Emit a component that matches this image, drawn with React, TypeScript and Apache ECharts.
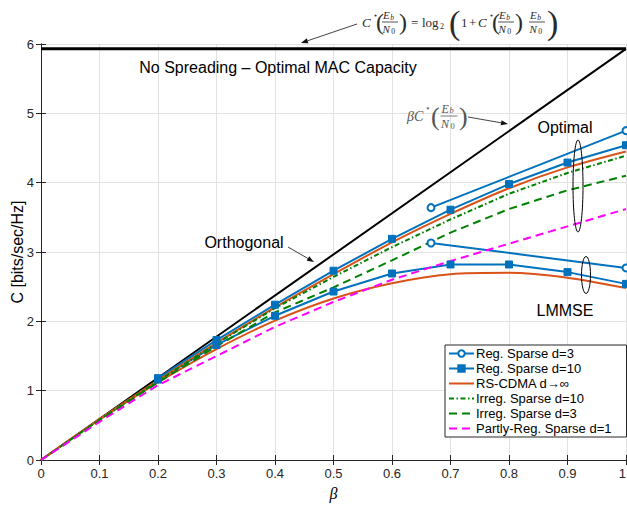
import React, { useEffect, useRef } from "react";
import * as echarts from "echarts";

// ---------------- data ----------------
const betaFull = [0, 0.1, 0.2, 0.3, 0.4, 0.5, 0.6, 0.7, 0.8, 0.9, 1.0];
const capacityNoSpreading = 5.93;

const regD3Beta = [0.6667, 1.0];
const regD3Optimal = [3.64, 4.75];
const regD3Lmmse = [3.13, 2.77];

const regD10Beta = [0.2, 0.3, 0.4, 0.5, 0.6, 0.7, 0.8, 0.9, 1.0];
const regD10Optimal = [1.18, 1.73, 2.24, 2.73, 3.19, 3.61, 3.98, 4.29, 4.54];
const regD10Lmmse = [1.16, 1.66, 2.08, 2.43, 2.69, 2.82, 2.82, 2.71, 2.54];

const rsCdmaOptimal = [0, 0.59, 1.15, 1.69, 2.2, 2.68, 3.14, 3.55, 3.92, 4.22, 4.45];
const rsCdmaLmmse = [0, 0.58, 1.12, 1.6, 2.01, 2.33, 2.55, 2.68, 2.7, 2.63, 2.48];
const irregD10 = [0, 0.58, 1.14, 1.68, 2.19, 2.64, 3.07, 3.47, 3.84, 4.14, 4.39];
const irregD3 = [0, 0.57, 1.12, 1.64, 2.13, 2.49, 2.88, 3.28, 3.62, 3.89, 4.1];
const partlyReg = [0, 0.55, 1.08, 1.5, 1.92, 2.28, 2.6, 2.87, 3.12, 3.37, 3.62];

const legendNames = [
  "Reg. Sparse d=3",
  "Reg. Sparse d=10",
  "RS-CDMA d\u2192\u221e",
  "Irreg. Sparse d=10",
  "Irreg. Sparse d=3",
  "Partly-Reg. Sparse d=1",
];
const legendHasMarker = [true, true, false, false, false, false];

const xTicks = { min: 0, max: 1, interval: 0.1 };
const yTicks = { min: 0, max: 6, interval: 1 };

// ---------------- styles ----------------
const SANS = "'Liberation Sans', Arial, Helvetica, sans-serif";
const SERIF = "'Liberation Serif', 'DejaVu Serif', 'Times New Roman', serif";
const BLUE = "#0072BD";
const ORANGE = "#D95319";
const GREEN = "#008000";
const MAGENTA = "#FF00FF";
const AXIS = "#262626";

const zip = (xs: number[], ys: number[]) => xs.map((x, i) => [x, ys[i]]);

function txt(x: number, y: number, text: string, size: number, opts: any = {}) {
  return {
    type: "text",
    x,
    y,
    z: 100,
    silent: true,
    style: {
      text,
      fontSize: size,
      fontFamily: opts.family ?? SERIF,
      fontStyle: opts.italic ? "italic" : "normal",
      fill: opts.color ?? "#222",
      align: opts.align ?? "left",
      verticalAlign: "middle",
    },
  };
}

function frac(x: number, yc: number, size: number, color: string, w: number) {
  const sub = size * 0.7;
  return [
    txt(x, yc - size * 0.62, "E", size, { italic: true, color }),
    txt(x + size * 0.66, yc - size * 0.42, "b", sub, { italic: true, color }),
    {
      type: "line",
      z: 100,
      silent: true,
      shape: { x1: x - 1, y1: yc, x2: x + w, y2: yc },
      style: { stroke: color, lineWidth: 0.8 },
    },
    txt(x - 0.5, yc + size * 0.66, "N", size, { italic: true, color }),
    txt(x + size * 0.74, yc + size * 0.85, "0", sub, { color }),
  ];
}

function arrow(x1: number, y1: number, x2: number, y2: number) {
  const dx = x2 - x1;
  const dy = y2 - y1;
  const L = Math.hypot(dx, dy);
  const ux = dx / L;
  const uy = dy / L;
  const hl = 7;
  const hw = 2.6;
  const bx = x2 - ux * hl;
  const by = y2 - uy * hl;
  return [
    {
      type: "line",
      z: 100,
      silent: true,
      shape: { x1, y1, x2: bx, y2: by },
      style: { stroke: "#111", lineWidth: 0.8 },
    },
    {
      type: "polygon",
      z: 100,
      silent: true,
      shape: {
        points: [
          [x2, y2],
          [bx - uy * hw, by + ux * hw],
          [bx + uy * hw, by - ux * hw],
        ],
      },
      style: { fill: "#111" },
    },
  ];
}

function buildGraphics() {
  const g: any[] = [];
  const fc = "#2a2a2a";
  // top formula: C*(Eb/N0) = log2(1 + C*(Eb/N0) Eb/N0)
  g.push(txt(362, 22, "C", 13, { italic: true, color: fc }));
  g.push(txt(372.5, 15, "\u22C6", 8, { color: fc }));
  g.push(txt(376, 22, "(", 24, { color: fc }));
  g.push(...frac(383, 22, 11, fc, 15));
  g.push(txt(399, 22, ")", 24, { color: fc }));
  g.push(txt(411, 22, "=", 13, { color: fc }));
  g.push(txt(422, 22, "log", 13, { color: fc }));
  g.push(txt(440, 26, "2", 8, { color: fc }));
  g.push(txt(449, 22, "(", 34, { color: fc }));
  g.push(txt(461, 22, "1", 13, { color: fc }));
  g.push(txt(469, 22, "+", 13, { color: fc }));
  g.push(txt(478, 22, "C", 13, { italic: true, color: fc }));
  g.push(txt(488.5, 15, "\u22C6", 8, { color: fc }));
  g.push(txt(492, 22, "(", 24, { color: fc }));
  g.push(...frac(499, 22, 11, fc, 15));
  g.push(txt(515, 22, ")", 24, { color: fc }));
  g.push(...frac(530, 22, 11, fc, 15));
  g.push(txt(547, 22, ")", 34, { color: fc }));
  g.push(...arrow(357, 24, 301, 43));

  // beta C*(Eb/N0)
  const bc = "#555";
  g.push(txt(407, 116, "\u03B2C", 14, { italic: true, color: bc }));
  g.push(txt(424.5, 108, "\u22C6", 9, { color: bc }));
  g.push(txt(431, 116, "(", 26, { color: bc }));
  g.push(...frac(441.5, 116, 12, bc, 16));
  g.push(txt(459, 116, ")", 26, { color: bc }));
  g.push(...arrow(468, 117, 508, 124));

  // labels
  const lab = { family: SANS, color: "#000", align: "center" };
  g.push(txt(278, 67, "No Spreading \u2013 Optimal MAC Capacity", 16, lab));
  g.push(txt(244, 242, "Orthogonal", 16, lab));
  g.push(...arrow(288, 247, 314, 262));
  g.push(txt(565, 127, "Optimal", 16, lab));
  g.push(txt(565, 310, "LMMSE", 16, lab));

  // ellipses
  g.push({
    type: "ellipse",
    z: 100,
    silent: true,
    shape: { cx: 578, cy: 186, rx: 5, ry: 46 },
    style: { stroke: "#000", fill: "none", lineWidth: 1 },
  });
  g.push({
    type: "ellipse",
    z: 100,
    silent: true,
    shape: { cx: 586, cy: 275, rx: 4.5, ry: 18.5 },
    style: { stroke: "#000", fill: "none", lineWidth: 1 },
  });
  return g;
}

function buildOption(): any {
  const tickFmt = (v: number) => String(+v.toFixed(1));
  const baseAxisLine = { show: true, lineStyle: { color: AXIS, width: 1 } };
  const tick = { show: true, inside: true, length: 5, lineStyle: { color: AXIS } };
  const line = (name: string | undefined, data: number[][], color: string, extra: any = {}) => ({
    type: "line",
    name,
    data,
    showSymbol: extra.symbol !== undefined,
    symbol: extra.symbol ?? "none",
    symbolSize: extra.symbolSize ?? 6,
    smooth: extra.smooth ?? false,
    clip: true,
    itemStyle: { color, borderColor: color, borderWidth: extra.borderWidth ?? 1 },
    lineStyle: { color, width: extra.width ?? 2, type: extra.dash ?? "solid" },
    z: extra.z ?? 2,
    silent: true,
  });

  return {
    animation: false,
    backgroundColor: "#fff",
    textStyle: { fontFamily: SANS },
    grid: { left: 41, right: 1, top: 44, bottom: 45, containLabel: false, outerBoundsMode: "none" },
    xAxis: [
      {
        type: "value",
        ...xTicks,
        name: "\u03B2",
        nameLocation: "middle",
        nameGap: 25,
        nameMoveOverlap: false,
        nameTextStyle: { fontFamily: SERIF, fontStyle: "italic", fontSize: 16, color: "#000" },
        axisLine: baseAxisLine,
        axisTick: tick,
        axisLabel: {
          formatter: tickFmt,
          fontSize: 13,
          color: AXIS,
          margin: 7,
          fontFamily: SANS,
          alignMaxLabel: "right",
        },
        splitLine: { show: true, lineStyle: { color: "#e2e2e2", width: 1 } },
      },
      {
        type: "value",
        position: "top",
        ...xTicks,
        axisLine: baseAxisLine,
        axisTick: tick,
        axisLabel: { show: false },
        splitLine: { show: false },
      },
    ],
    yAxis: [
      {
        type: "value",
        ...yTicks,
        name: "C [bits/sec/Hz]",
        nameLocation: "middle",
        nameGap: 16,
        nameMoveOverlap: false,
        nameRotate: 90,
        nameTextStyle: { fontFamily: SANS, fontSize: 16, color: "#000" },
        axisLine: baseAxisLine,
        axisTick: tick,
        axisLabel: { fontSize: 13, color: AXIS, margin: 7, fontFamily: SANS },
        splitLine: { show: true, lineStyle: { color: "#e2e2e2", width: 1 } },
      },
      {
        type: "value",
        position: "right",
        ...yTicks,
        axisLine: baseAxisLine,
        axisTick: tick,
        axisLabel: { show: false },
        splitLine: { show: false },
      },
    ],
    legend: {
      data: legendNames.map((name, i) =>
        legendHasMarker[i] ? { name } : { name, itemStyle: { opacity: 0 } }
      ),
      orient: "vertical",
      left: 445,
      top: 345,
      itemWidth: 25,
      itemHeight: 8,
      itemGap: 2,
      padding: [2, 15, 2, 3],
      borderColor: AXIS,
      borderWidth: 1,
      borderRadius: 0,
      backgroundColor: "#fff",
      selectedMode: false,
      textStyle: { fontSize: 13, fontFamily: SANS, color: "#000", padding: [0, 0, 0, -3] },
      z: 10,
    },
    series: [
      line(undefined, [[0, capacityNoSpreading], [1, capacityNoSpreading]], "#000", { width: 3 }),
      line(undefined, [[0, 0], [1, capacityNoSpreading]], "#000", { width: 2 }),
      line(legendNames[0], zip(regD3Beta, regD3Optimal), BLUE, { symbol: "emptyCircle", symbolSize: 7, borderWidth: 2 }),
      line(legendNames[0], zip(regD3Beta, regD3Lmmse), BLUE, { symbol: "emptyCircle", symbolSize: 7, borderWidth: 2 }),
      line(legendNames[1], zip(regD10Beta, regD10Optimal), BLUE, { symbol: "rect", symbolSize: 7 }),
      line(legendNames[1], zip(regD10Beta, regD10Lmmse), BLUE, { symbol: "rect", symbolSize: 7 }),
      line(legendNames[2], zip(betaFull, rsCdmaOptimal), ORANGE, { smooth: 0.3 }),
      line(legendNames[2], zip(betaFull, rsCdmaLmmse), ORANGE, { smooth: 0.3 }),
      line(legendNames[3], zip(betaFull, irregD10), GREEN, { dash: [5, 2.5, 1.5, 2.5] }),
      line(legendNames[4], zip(betaFull, irregD3), GREEN, { dash: [8, 5] }),
      line(legendNames[5], zip(betaFull, partlyReg), MAGENTA, { dash: [8, 5] }),
    ],
    graphic: buildGraphics(),
  };
}

export default function App() {
  const ref = useRef<HTMLDivElement>(null);
  useEffect(() => {
    if (!ref.current) return;
    const chart = echarts.init(ref.current, undefined, { renderer: "svg" });
    chart.setOption(buildOption());
    return () => chart.dispose();
  }, []);
  return (
    <div
      ref={ref}
      style={{ position: "fixed", left: 0, top: 0, width: 627, height: 505, background: "#fff" }}
    />
  );
}
